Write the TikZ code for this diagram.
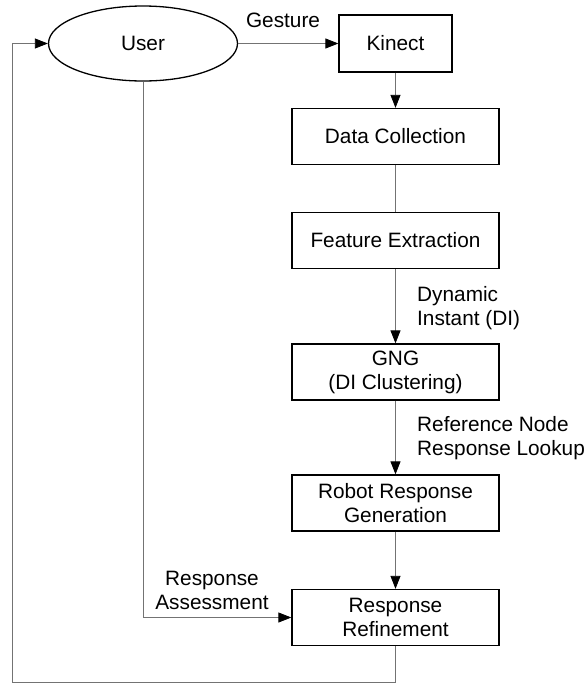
\documentclass[tikz,border=0pt]{standalone}
\usepackage{fontspec}
\setmainfont{Liberation Sans}
\usetikzlibrary{positioning,calc,arrows.meta,shapes.geometric}
\tikzset{font=\fontsize{20.8}{24}\selectfont}
\tikzset{
	block/.style={draw, line width=1.3pt, rectangle, align=center, minimum width=207pt, minimum height=56pt, inner sep=1pt},
	flow/.style={draw=black!55, line width=0.8pt, -{Triangle[length=13pt,width=10pt,color=black]}},
	lbl/.style={align=left, inner sep=1pt}
}

\begin{document}
\begin{tikzpicture}[x=1pt, y=-1pt]
	\useasboundingbox (0,0) rectangle (586,683);
	\node[draw, ellipse, line width=1.3pt, minimum width=189pt, minimum height=75pt] (user) at (143, 43.5) {User};
	\node[block, minimum width=113pt, minimum height=57pt] (kinect) at (395.5, 43.5) {Kinect};
	\node[block] (data) at (395.5, 136.5) {Data Collection};
	\node[block] (feat) at (395.5, 240.5) {Feature Extraction};
	\node[block] (gng) at (395.5, 372) {GNG\\(DI Clustering)};
	\node[block] (robot) at (395.5, 503) {Robot Response\\Generation};
	\node[block] (refine) at (395.5, 617.5) {Response\\Refinement};

	\node[lbl] (gest) at (283, 20) {Gesture};
	\node[lbl, anchor=west] (di) at (416, 308) {Dynamic\\Instant (DI)};
	\node[lbl, anchor=west] (ref) at (416, 438) {Reference Node\\Response Lookup};
	\node[lbl, align=center] (assess) at (212, 590) {Response\\Assessment};

	\coordinate (back) at (12, 682);

	\draw [flow] (user) to (kinect);
	\draw [flow] (kinect) to (data);
	\draw [draw=black!55, line width=0.8pt] (data) to (feat);
	\draw [flow] (feat) to (gng);
	\draw [flow] (gng) to (robot);
	\draw [flow] (robot) to (refine);
	\draw [flow] (user.south) |- (refine.west);
	\draw [flow] (refine.south) |- (back) |- (user.west);
\end{tikzpicture}
\end{document}
